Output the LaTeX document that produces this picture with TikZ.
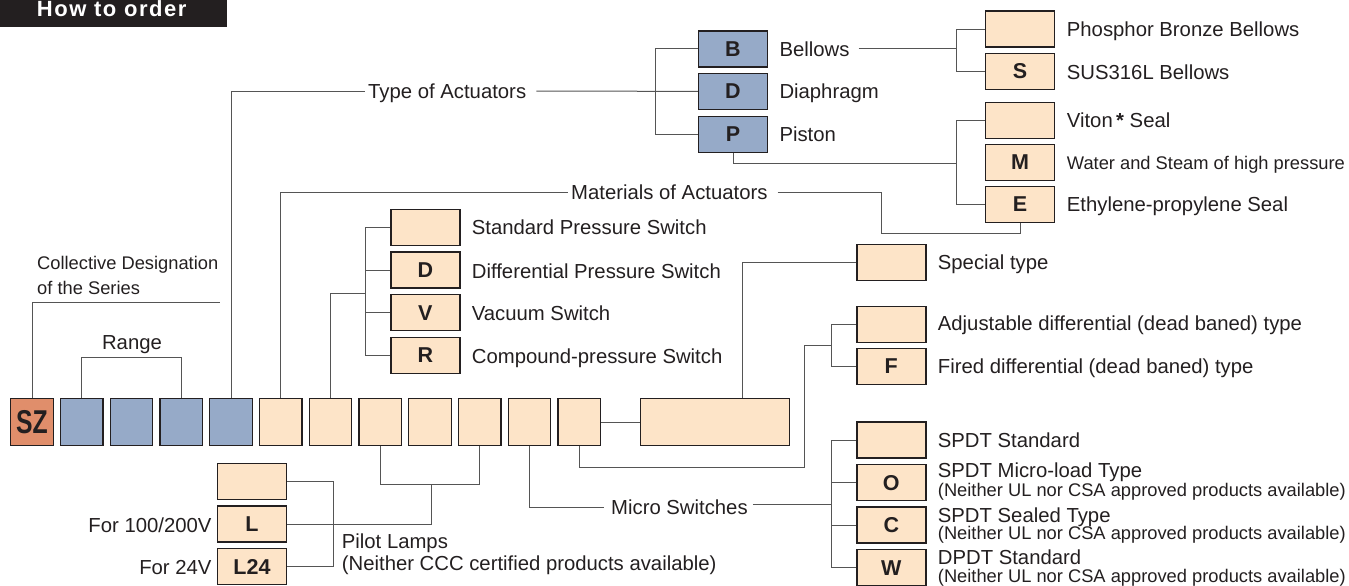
\documentclass[tikz,border=0pt]{standalone}
\usepackage{fontspec}
\setmainfont{Liberation Sans}
\newfontfamily\hdfont[LetterSpace=7]{Liberation Sans}
\newcommand\labfont{\fontsize{20.3}{24}\selectfont}
\newcommand\smlfont{\fontsize{18.3}{22}\selectfont}
\definecolor{blu}{HTML}{96AAC8}
\definecolor{peach}{HTML}{FDE4C8}
\definecolor{szc}{HTML}{E08E6B}
\definecolor{bord}{HTML}{231F20}
\definecolor{linec}{HTML}{555555}
\definecolor{txtc}{HTML}{231F20}
\begin{document}
\begin{tikzpicture}[x=1pt,y=-1pt,
  cell/.style={draw=bord, line width=1.4pt, inner sep=0pt, minimum width=42.5pt, minimum height=46.5pt},
  opt/.style={draw=bord, line width=1.4pt, fill=peach, inner sep=0pt, minimum width=69pt, minimum height=36pt, text=txtc, font=\bfseries\fontsize{21.5}{24}\selectfont},
  lab/.style={anchor=west, inner sep=0pt, text height=14.5pt, text depth=0pt, text=txtc, font=\labfont},
  sml/.style={anchor=west, inner sep=0pt, text height=13.1pt, text depth=0pt, text=txtc, font=\smlfont},
  conn/.style={draw=linec, line width=1pt}]
\useasboundingbox (0,0) rectangle (1349,586);
% header
\node[fill=bord, minimum width=226.7pt, minimum height=26.7pt, anchor=north west, inner sep=0pt] (hd) at (0,0) {};
\node[anchor=base west, inner sep=0pt, text=white, font=\hdfont\bfseries\fontsize{22}{24}\selectfont] (hdt) at (36.7,16.8) {How to order};
% main row
\node[cell, fill=szc, text=txtc] (c0) at (32,422) {\scalebox{0.75}[1]{\bfseries\fontsize{33}{34}\selectfont SZ}};
\foreach \i/\x in {1/81.75,2/131.5,3/181.25,4/231}
  \node[cell, fill=blu] (c\i) at (\x,422) {};
\foreach \i/\x in {5/280.75,6/330.5,7/380.25,8/430,9/479.75,10/529.5,11/579.25}
  \node[cell, fill=peach] (c\i) at (\x,422) {};
\node[cell, fill=peach, minimum width=148.5pt] (big) at (715,422) {};
% actuator type boxes
\node[opt, fill=blu] (B) at (733,49) {B};
\node[opt, fill=blu] (D) at (733,91.4) {D};
\node[opt, fill=blu] (P) at (733,134.5) {P};
% bellows materials
\node[opt] (PB) at (1020,29.2) {};
\node[opt] (S) at (1020,71.3) {S};
% seal materials
\node[opt] (Vi) at (1020,120.3) {};
\node[opt] (M) at (1020,162.5) {M};
\node[opt] (E) at (1020,204.5) {E};
% pressure switch types
\node[opt] (Ps1) at (425.3,227.5) {};
\node[opt] (Ps2) at (425.3,270) {D};
\node[opt] (Ps3) at (425.3,312.7) {V};
\node[opt] (Ps4) at (425.3,355.3) {R};
% special
\node[opt] (Sp) at (891.3,262.7) {};
% differential
\node[opt] (Ad) at (891.3,324.3) {};
\node[opt] (F) at (891.3,366.5) {F};
% micro switches
\node[opt] (So) at (891.3,440) {};
\node[opt] (O) at (891.3,482.7) {O};
\node[opt] (C) at (891.3,525) {C};
\node[opt] (W) at (891.3,567.7) {W};
% pilot lamps
\node[opt] (Pb) at (252,481.5) {};
\node[opt] (L) at (252,524) {L};
\node[opt] (L24) at (252,566.5) {L24};
% labels
\node[sml] (col1) at (37,263.3) {Collective Designation};
\node[sml] (col2) at (37,288.3) {of the Series};
\node[lab, anchor=center] (rng) at (132,342.5) {Range};
\node[lab] (typ) at (368,91) {Type of Actuators};
\node[lab] (bel) at (779.3,49) {Bellows};
\node[lab] (dia) at (779.3,91.4) {Diaphragm};
\node[lab] (pis) at (779.3,134.5) {Piston};
\node[lab] (pbb) at (1066.7,28.8) {Phosphor Bronze Bellows};
\node[lab] (sus) at (1066.7,72) {SUS316L Bellows};
\node[lab] (vit) at (1066.7,120.5) {Viton\,{\bfseries *}\ Seal};
\node[sml] (wat) at (1066.7,163.3) {Water and Steam of high pressure};
\node[lab] (eth) at (1066.7,204.5) {Ethylene-propylene Seal};
\node[lab] (mat) at (571,192) {Materials of Actuators};
\node[lab] (psl1) at (471.7,227.5) {Standard Pressure Switch};
\node[lab] (psl2) at (471.7,270.8) {Differential Pressure Switch};
\node[lab] (psl3) at (471.7,313.3) {Vacuum Switch};
\node[lab] (psl4) at (471.7,355.8) {Compound-pressure Switch};
\node[lab] (spl) at (937.7,262.5) {Special type};
\node[lab] (adl) at (937.7,323.7) {Adjustable differential (dead baned) type};
\node[lab] (frl) at (937.7,366.7) {Fired differential (dead baned) type};
\node[lab] (ms1) at (937.7,440) {SPDT Standard};
\node[lab] (ms2) at (937.7,470.5) {SPDT Micro-load Type};
\node[sml] (ms2b) at (937.7,490) {(Neither UL nor CSA approved products available)};
\node[lab] (ms3) at (937.7,514.8) {SPDT Sealed Type};
\node[sml] (ms3b) at (937.7,533.3) {(Neither UL nor CSA approved products available)};
\node[lab] (ms4) at (937.7,557.7) {DPDT Standard};
\node[sml] (ms4b) at (937.7,576) {(Neither UL nor CSA approved products available)};
\node[lab, anchor=east] (f100) at (211.7,525.2) {For 100/200V};
\node[lab, anchor=east] (f24) at (211.7,566.8) {For 24V};
\node[lab] (pl1) at (341.7,541.2) {Pilot Lamps};
\node[lab] (pl2) at (341.7,562.8) {(Neither CCC certified products available)};
\node[lab] (mic) at (611,506.8) {Micro Switches};
% coordinates
\coordinate (cdes) at (220,302.3);
\coordinate (bj) at (957,49);
\coordinate (pj) at (957,163.5);
\coordinate (mj) at (881.7,233.3);
\coordinate (psj) at (365.8,293.7);
\coordinate (dj1) at (804,467);
\coordinate (dj2) at (831.8,345);
\coordinate (msj) at (831.8,504.5);
\coordinate (plj) at (431.7,484.8);
% connectors
\draw[conn] (c0.north) |- (cdes);
\draw[conn] (c1.north) -- ++(0,-40.4) -| (c3.north);
\draw[conn] (c4.north) |- ([xshift=-3pt]typ.west);
\draw[conn] ([xshift=10pt]typ.east) -- (D.west);
\draw[conn] (B.west) -- ++(-42.5,0) |- (P.west);
\draw[conn] ([xshift=9pt]bel.east) -- (bj);
\draw[conn] (PB.west) -- ++(-28.5,0) |- (S.west);
\draw[conn] (P.south) |- (pj);
\draw[conn] (Vi.west) -- ++(-28.5,0) |- (E.west);
\draw[conn] (c5.north) |- ([xshift=-3pt]mat.west);
\draw[conn] ([xshift=10pt]mat.east) -| (mj) -| (E.south);
\draw[conn] (c6.north) |- (psj);
\draw[conn] (Ps1.west) -- ++(-25,0) |- (Ps4.west);
\draw[conn] (Ps2.west) -- ++(-25,0);
\draw[conn] (Ps3.west) -- ++(-25,0);
\draw[conn] ([xshift=27.7pt]big.north) |- (Sp.west);
\draw[conn] (c11.south) |- (dj1) |- (dj2);
\draw[conn] (Ad.west) -- ++(-25,0) |- (F.west);
\draw[conn] (c10.south) |- ([xshift=-7pt,yshift=-0.8pt]mic.west);
\draw[conn] ([xshift=5pt,yshift=2.3pt]mic.east) -- (msj);
\draw[conn] (So.west) -- ++(-25,0) |- (W.west);
\draw[conn] (O.west) -- ++(-25,0);
\draw[conn] (C.west) -- ++(-25,0);
\draw[conn] (c11.east) -- (big.west);
\draw[conn] (c7.south) |- (plj) -| (c9.south);
\draw[conn] (plj) |- (L.east);
\draw[conn] (Pb.east) -- ++(46,0) |- (L24.east);
\end{tikzpicture}
\end{document}
